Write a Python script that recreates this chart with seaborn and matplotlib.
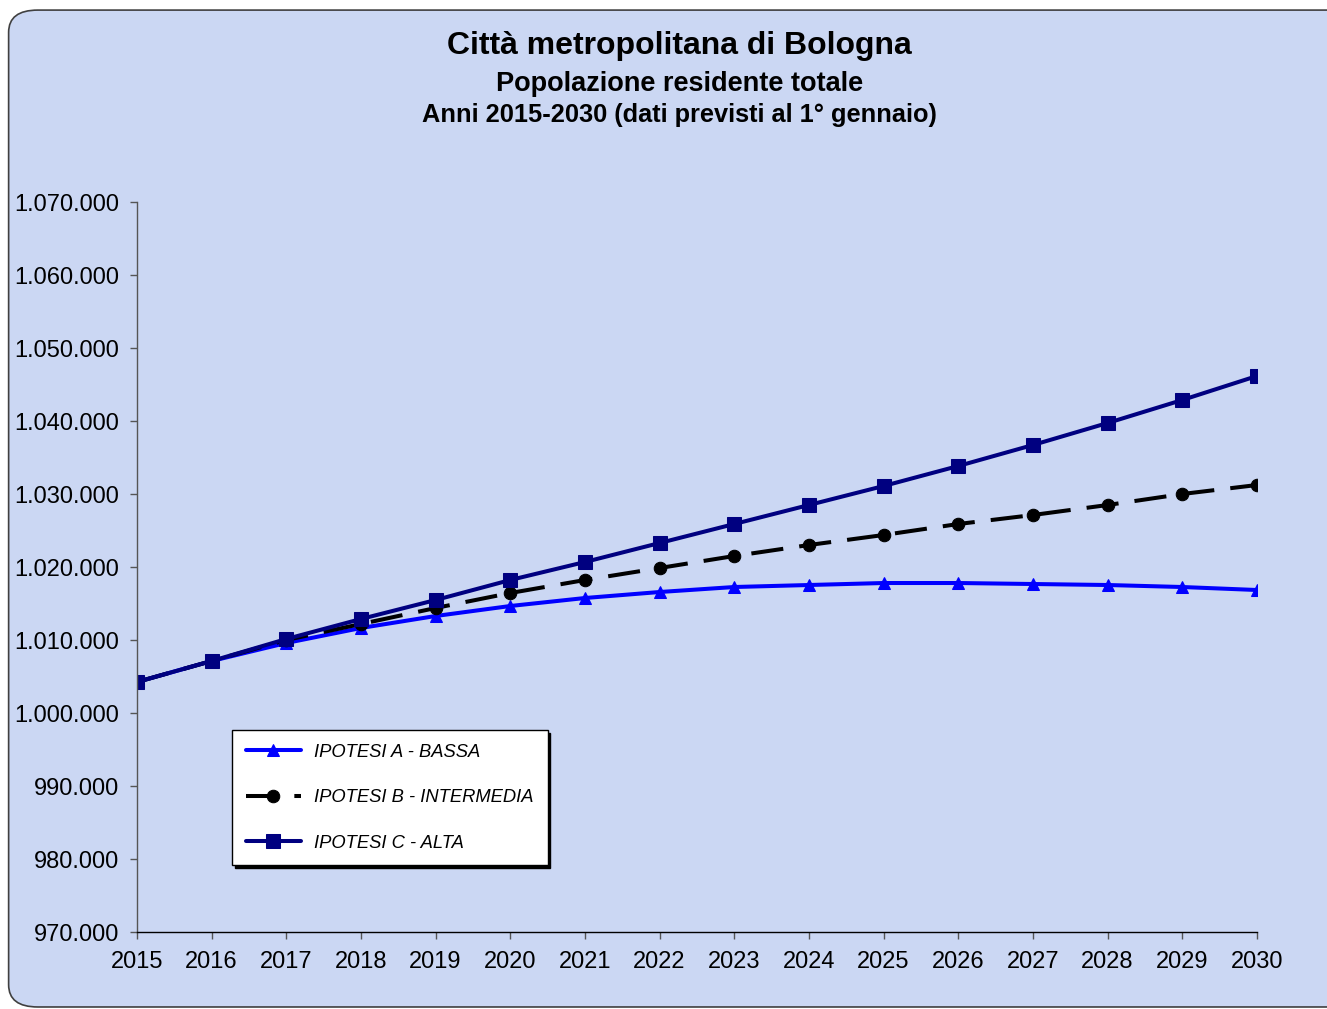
import seaborn as sns
import matplotlib.pyplot as plt
import pandas as pd
from matplotlib.patches import FancyBboxPatch
from matplotlib.ticker import FuncFormatter

# anni e tre ipotesi di proiezione
anni = list(range(2015, 2031))
ipotesi_a = [1004247, 1007123, 1009589, 1011644, 1013288, 1014658, 1015753, 1016575,
             1017260, 1017534, 1017808, 1017808, 1017671, 1017534, 1017260, 1016849]
ipotesi_b = [1004247, 1007123, 1010000, 1012192, 1014384, 1016438, 1018219, 1019863,
             1021507, 1023014, 1024384, 1025890, 1027123, 1028493, 1030000, 1031233]
ipotesi_c = [1004247, 1007123, 1010137, 1012877, 1015479, 1018219, 1020685, 1023288,
             1025890, 1028493, 1031096, 1033836, 1036712, 1039726, 1042877, 1046164]
etichette = ["IPOTESI A - BASSA", "IPOTESI B - INTERMEDIA", "IPOTESI C - ALTA"]

df = pd.DataFrame({"anno": anni, etichette[0]: ipotesi_a,
                   etichette[1]: ipotesi_b, etichette[2]: ipotesi_c})

sns.set_style("white")
plt.rcParams['font.family'] = ['Liberation Sans', 'DejaVu Sans']
plt.rcParams['text.color'] = 'black'

bg = "#cbd7f3"
fig = plt.figure(figsize=(13.27, 10.09), dpi=100)
fig.patch.set_facecolor("white")
# cornice arrotondata (il lato destro esce dall'immagine)
fig.patches.append(FancyBboxPatch((0.0065, 0.002), 1.02, 0.988, boxstyle="round,pad=0,rounding_size=0.022",
                                  transform=fig.transFigure, facecolor=bg, edgecolor="#404040",
                                  linewidth=1.2, zorder=-10))

ax = fig.add_axes([0.1032, 0.0763, 0.844, 0.7235])
ax.set_facecolor("none")

stili = [
    dict(color="#0000ff", marker="^", markersize=9, dashes=False),
    dict(color="black", marker="o", markersize=9, dashes=(8, 4)),
    dict(color="#000080", marker="s", markersize=10, dashes=False),
]
for lab, st in zip(etichette, stili):
    kw = dict(x="anno", y=lab, data=df, ax=ax, color=st["color"], marker=st["marker"],
              markersize=st["markersize"], markeredgecolor=st["color"], linewidth=2.9, label=lab)
    if st["dashes"]:
        kw["linestyle"] = (0, st["dashes"])
    sns.lineplot(**kw)

ax.set_xlim(2015, 2030)
ax.set_ylim(970000, 1070000)
ax.set_xticks(anni)
ax.set_yticks(range(970000, 1070001, 10000))
ax.yaxis.set_major_formatter(FuncFormatter(lambda v, p: f"{int(v):,}".replace(",", ".")))
ax.set_xlabel("")
ax.set_ylabel("")
for s in ["top", "right"]:
    ax.spines[s].set_visible(False)
ax.spines["left"].set_color("#555555")
ax.spines["bottom"].set_color("black")
for s in ["left", "bottom"]:
    ax.spines[s].set_linewidth(1)
ax.tick_params(axis="both", labelsize=17, labelcolor="black", color="#555555", length=5, width=1,
               direction="out", left=True, bottom=True)
ax.tick_params(axis="y", pad=8)
ax.tick_params(axis="x", pad=9)

leg = ax.legend(loc="upper left", bbox_to_anchor=(0.0848, 0.2767), borderaxespad=0, frameon=True,
                shadow={"color": "black", "alpha": 1}, fancybox=False, framealpha=1,
                edgecolor="black", facecolor="white",
                prop={"style": "italic", "size": 13.2}, labelspacing=1.55, handlelength=3.0,
                borderpad=0.75, handletextpad=0.75)
leg.get_frame().set_linewidth(1)
for t in leg.get_texts():
    t.set_color("black")

fig.text(0.512, 0.954, "Città metropolitana di Bologna", ha="center", va="center",
         fontsize=23, fontweight="bold")
fig.text(0.512, 0.917, "Popolazione residente totale", ha="center", va="center",
         fontsize=19.5, fontweight="bold")
fig.text(0.512, 0.886, "Anni 2015-2030 (dati previsti al 1° gennaio)", ha="center", va="center",
         fontsize=18.3, fontweight="bold")

plt.savefig("out.png", dpi=100, facecolor=fig.get_facecolor())
plt.close()
